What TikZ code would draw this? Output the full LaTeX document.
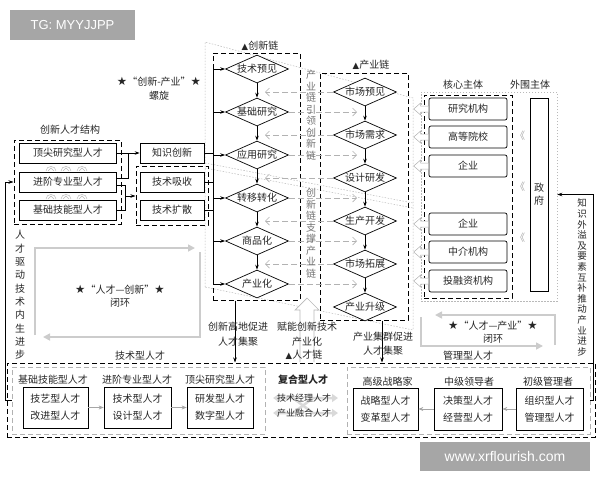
\documentclass[tikz,border=0pt]{standalone}
\usepackage{fontspec}
\setmainfont{Noto Sans CJK SC}
\newfontfamily\symf{DejaVu Sans}
\newfontfamily\latf{Liberation Sans}
\usetikzlibrary{shapes.geometric,arrows.meta,calc}
\newcommand{\mystar}{{\symf\fontsize{11.5}{12}\selectfont ★}}
\newcommand{\mytri}{{\symf\fontsize{8.5}{10}\selectfont ▲}}
\begin{document}
\begin{tikzpicture}[x=1pt,y=-1pt,font=\fontsize{10}{12}\selectfont,text=black!85,
 box/.style={draw=black,line width=0.7pt,inner sep=0pt,align=center},
 rbox/.style={box,rounded corners=2pt,minimum width=78,minimum height=22},
 dia/.style={draw=black,diamond,aspect=2.25,inner sep=0pt,minimum width=63pt,minimum height=28pt,line width=0.7pt},
 dfr/.style={draw=black,dash pattern=on 5pt off 3pt,line width=1pt,inner sep=0pt},
 gfr/.style={draw=gray!60,dash pattern=on 5pt off 3pt,line width=0.8pt,inner sep=0pt},
 gdot/.style={draw=gray!55,dash pattern=on 1.5pt off 1.5pt,line width=0.5pt},
 arr/.style={draw=black,line width=0.7pt,-{Stealth[length=5pt,width=3.5pt]}},
 garr/.style={draw=gray!70,line width=0.8pt,-{Stealth[length=5pt,width=4pt]}},
 gda/.style={draw=gray!60,dash pattern=on 6pt off 3pt,line width=0.7pt,-{Straight Barb[length=4pt,width=8pt]}},
 gloop/.style={draw=gray!40,line width=1.6pt,-{Triangle[length=7pt,width=7pt]}},
 harr/.style={draw=gray!60,line width=0.5pt,fill=white},
 xarr/.style={draw=gray!30,line width=2.5pt,{Triangle[length=6pt,width=8pt]}-{Triangle[length=6pt,width=8pt]}},
 vtext/.style={align=center,inner sep=0pt}]
\useasboundingbox (0,0) rectangle (600,480);

% watermarks
\node[fill=gray!70,text=white,minimum width=125,minimum height=30,inner sep=0pt,font=\latf\fontsize{13}{14}\selectfont] (wm1) at (72.5,25) {TG: MYYJJPP};

% spiral gray dotted lines
\draw[gdot] (205,287) -- (205,42) -- (413,98) -- (413,330) -- cycle;
\draw[gdot] (205,163) -- (413,203);
\draw[gdot] (205,168) -- (413,208);

% top-left labels
\node (spl) at (159,82) {\mystar{}“创新-产业”\mystar{}};
\node (spl2) at (159,96) {螺旋};
\node (jgl) at (70,130) {创新人才结构};

% talent structure
\node[dfr,minimum width=107,minimum height=84] (jg) at (67.5,182) {};
\node[box,minimum width=97,minimum height=20] (t1) at (68,153) {顶尖研究型人才};
\node[box,minimum width=97,minimum height=20] (t2) at (68,182) {进阶专业型人才};
\node[box,minimum width=97,minimum height=20] (t3) at (68,210) {基础技能型人才};
\foreach \xx in {51,66,82}{
 \foreach \yy in {168,196}{
  \draw[gray!55,line width=0.5pt] (\xx-5,\yy+3) .. controls (\xx-5,\yy-3) and (\xx+5,\yy-3) .. (\xx+5,\yy+3);
  \draw[gray!55,line width=0.5pt] (\xx-3,\yy+3) -- (\xx,\yy) -- (\xx+3,\yy+3);
 }}

\node[dfr,minimum width=72,minimum height=59] (jsf) at (172,195.5) {};
\node[box,minimum width=64,minimum height=20] (zs) at (172,153) {知识创新};
\node[box,minimum width=64,minimum height=20] (jx1) at (172,182) {技术吸收};
\node[box,minimum width=64,minimum height=20] (jx2) at (172,210) {技术扩散};

\coordinate (j1) at (128,153);
\coordinate (j2) at (125,196);
\draw[arr] (t1.east) -- (zs.west);
\draw[line width=0.7pt] ([yshift=4pt]t2.east) -| (j1);
\draw[line width=0.7pt] ([yshift=-3pt]t2.east) -| (j2);
\draw[line width=0.7pt] (t3.east) -| (j2);
\draw[arr] (j2) -- (jsf.west |- j2);

% innovation chain
\node[dfr,minimum width=87,minimum height=247] (inv) at (256.5,176.5) {};
\node (invl) at (260,46) {\mytri{}创新链};
\foreach \n/\yy/\t in {1/69/技术预见,2/112/基础研究,3/155/应用研究,4/198/转移转化,5/241/商品化,6/284/产业化}
 \node[dia,fill=white] (c\n) at (257,\yy) {\t};
\coordinate (busTop) at (213,69);
\coordinate (busBot) at (213,284);
\draw[line width=0.7pt] (busTop) -- (busBot);
\foreach \n in {1,...,6} \draw[arr] (busTop |- c\n.west) -- (c\n.west);
\foreach \a/\b in {1/2,2/3,3/4,4/5,5/6} \draw[arr] (c\a.south) -- (c\b.north);
\draw[line width=0.7pt] (zs.east) -- (busTop |- zs.east);
\draw[line width=0.7pt] (jx1.east) -- (busTop |- jx1.east);
\draw[line width=0.7pt] (jx2.east) -- (busTop |- jx2.east);

% industry chain
\node[dfr,minimum width=88,minimum height=247] (ind) at (364,196.5) {};
\node (indl) at (371,65) {\mytri{}产业链};
\foreach \n/\yy/\t in {1/92/市场预见,2/135/市场需求,3/178/设计研发,4/221/生产开发,5/264/市场拓展,6/307/产业升级}
 \node[dia,fill=white] (p\n) at (365,\yy) {\t};
\foreach \a/\b in {1/2,2/3,3/4,4/5,5/6} \draw[arr] (p\a.south) -- (p\b.north);

\coordinate (xL) at (265,0);
\coordinate (xR) at (357,0);
\foreach \n in {1,...,5} \draw[gda] (p\n.west) -- (xL |- p\n.west);
\foreach \n in {2,...,6} \draw[gda] (c\n.east) -- (xR |- c\n.east);

\node[vtext,text=black!55,font=\fontsize{10}{11.5}\selectfont] (v1) at (311,115) {产\\业\\链\\引\\领\\创\\新\\链};
\node[vtext,text=black!55,font=\fontsize{10}{11.5}\selectfont] (v2) at (311,233) {创\\新\\链\\支\\撑\\产\\业\\链};

% core / peripheral subjects
\node[gdot,minimum width=136,minimum height=209,inner sep=0pt] (wai) at (489,196.5) {};
\node[dfr,minimum width=88,minimum height=203] (core) at (468,196.5) {};
\node (corel) at (463,85) {核心主体};
\node (wail) at (530,85) {外围主体};
\foreach \n/\yy/\t in {1/109/研究机构,2/137/高等院校,3/166/企业,4/224/企业,5/252/中介机构,6/281/投融资机构}
 \node[rbox] (e\n) at (468,\yy) {\t};
\node[box,minimum width=18,minimum height=193,font=\fontsize{10}{13}\selectfont] (gov) at (539,194.5) {政\\府};
\foreach \yy in {136,187,238} \node[text=gray!70] at (520,\yy) {《};
\foreach \n in {1,...,6}
 \draw[harr,shift={(e\n.west)}] (-15,0) -- (-8,-6) -- (-8,-3) -- (0,-3) -- (0,3) -- (-8,3) -- (-8,6) -- cycle;

% right feedback
\node[vtext,font=\fontsize{9.5}{10.6}\selectfont] (vr) at (582,277.5) {知\\识\\外\\溢\\及\\要\\素\\互\\补\\推\\动\\产\\业\\进\\步};

% left vertical text
\node[vtext,font=\fontsize{10}{13.3}\selectfont] (vl) at (20,295) {人\\才\\驱\\动\\技\\术\\内\\生\\进\\步};

% loops
\draw[gloop] (35,335) -- (35,248) -- (195,248);
\draw[gloop] (200,252) -- (200,337) -- (43,337);
\node (lp1) at (120,290) {\mystar{}“人才—创新”\mystar{}};
\node (lp1b) at (120,303) {闭环};
\draw[gloop] (555,345) -- (555,315) -- (435,315);
\draw[gloop] (421,317) -- (421,346) -- (543,346);
\node (lp2) at (493,326) {\mystar{}“人才—产业”\mystar{}};
\node (lp2b) at (493,339) {闭环};

% bottom region
\node[dfr,minimum width=588,minimum height=74] (outer) at (301,400) {};
\node[gfr,minimum width=253,minimum height=67] (tin) at (138.5,400.5) {};
\node[gfr,minimum width=243,minimum height=67] (min) at (468.5,400.5) {};
\node (tl) at (140,356) {技术型人才};
\node (ml) at (468,356) {管理型人才};

\node (tl1) at (53,380) {基础技能型人才};
\node (tl2) at (137,380) {进阶专业型人才};
\node (tl3) at (220,380) {顶尖研究型人才};
\node[box,minimum width=65,minimum height=41,font=\fontsize{10}{17}\selectfont] (b1) at (55.5,407.5) {技艺型人才\\改进型人才};
\node[box,minimum width=67,minimum height=41,font=\fontsize{10}{17}\selectfont] (b2) at (137.5,407.5) {技术型人才\\设计型人才};
\node[box,minimum width=66,minimum height=41,font=\fontsize{10}{17}\selectfont] (b3) at (220,407.5) {研发型人才\\数字型人才};
\draw[garr] (b1.east) -- (b2.west);
\draw[garr] (b2.east) -- (b3.west);

\node (mm1) at (387.5,382) {高级战略家};
\node (mm2) at (469,382) {中级领导者};
\node (mm3) at (548,382) {初级管理者};
\node[box,minimum width=65,minimum height=42,font=\fontsize{10}{17}\selectfont] (m1) at (385.5,409) {战略型人才\\变革型人才};
\node[box,minimum width=68,minimum height=42,font=\fontsize{10}{17}\selectfont] (m2) at (468,409) {决策型人才\\经营型人才};
\node[box,minimum width=67,minimum height=42,font=\fontsize{10}{17}\selectfont] (m3) at (549.5,409) {组织型人才\\管理型人才};
\draw[garr] (m3.west) -- (m2.east);
\draw[garr] (m2.west) -- (m1.east);

% composite talent
\node[font=\bfseries\fontsize{10}{12}\selectfont] (fh) at (303,380) {复合型人才};
\draw[xarr] (273,398) -- (293,398) -- (313,413) -- (338,413);
\draw[xarr] (273,413) -- (293,413) -- (313,398) -- (338,398);
\node[font=\fontsize{9}{11}\selectfont] (fh1) at (304,398) {技术经理人才};
\node[font=\fontsize{9}{11}\selectfont] (fh2) at (304,413) {产业融合人才};

% vertical connectors down
\coordinate (x235) at (235,0);
\coordinate (x382) at (382,0);
\draw[arr] (x235 |- inv.south) -- (x235 |- outer.north);
\draw[arr] (x382 |- ind.south) -- (x382 |- outer.north);
\draw[gray!55,line width=0.7pt,fill=white] (300,362) -- (300,310) -- (295,310) -- (307,298) -- (319,310) -- (314,310) -- (314,362);
\node[align=center,font=\fontsize{10}{15}\selectfont] (lb1) at (238,334) {创新高地促进\\人才集聚};
\node[align=center,font=\fontsize{10}{15}\selectfont] (lb2) at (307,334) {赋能创新技术\\产业化};
\node (lb3) at (304,355) {\mytri{}人才链};
\node[align=center,font=\fontsize{10}{14}\selectfont] (lb4) at (383,344) {产业集群促进\\人才集聚};

% feedback lines
\coordinate (x5) at (5,0);
\coordinate (x593) at (593,0);
\draw[arr] (tin.west) -| (x5 |- jg.west) -- (jg.west);
\draw[arr] (min.east) -| (x593 |- gov.east) -- (wai.east |- gov.east);

\node[fill=gray!70,text=white,minimum width=170,minimum height=29,inner sep=0pt,font=\latf\fontsize{14}{15}\selectfont] (wm2) at (505,456.5) {www.xrflourish.com};
\end{tikzpicture}
\end{document}
